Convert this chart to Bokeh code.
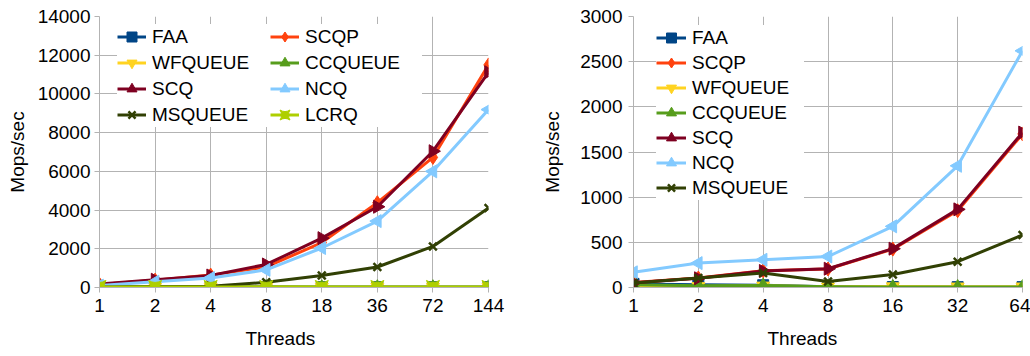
import numpy as np
from bokeh.plotting import figure
from bokeh.models import (Range1d, FixedTicker, Legend, LegendItem, Title,
                          LinearAxis, ColumnDataSource)
from bokeh.layouts import row
from bokeh.embed import file_html
from bokeh.resources import INLINE

# ---------------- data: left chart ----------------
threads_a = ["1", "2", "4", "8", "18", "36", "72", "144"]
faa_a = [40, 30, 25, 20, 20, 20, 20, 20]
scqp_a = [160, 380, 640, 1060, 2320, 4380, 6720, 11500]
wfqueue_a = [30, 25, 20, 20, 15, 15, 15, 15]
ccqueue_a = [40, 30, 25, 20, 15, 15, 15, 15]
scq_a = [180, 400, 620, 1190, 2550, 4170, 7040, 11120]
ncq_a = [100, 300, 490, 910, 2040, 3430, 6000, 9190]
msqueue_a = [30, 40, 60, 270, 620, 1060, 2120, 4110]
lcrq_a = [30, 30, 30, 30, 30, 30, 30, 30]

# ---------------- data: right chart ----------------
threads_b = ["1", "2", "4", "8", "16", "32", "64"]
faa_b = [40, 30, 25, 8, 5, 4, 4]
scqp_b = [55, 105, 185, 205, 425, 850, 1700]
wfqueue_b = [15, 12, 18, 8, 10, 8, 8]
ccqueue_b = [30, 20, 22, 8, 6, 5, 5]
scq_b = [52, 102, 183, 208, 430, 865, 1715]
ncq_b = [168, 270, 307, 343, 677, 1347, 2620]
msqueue_b = [50, 105, 160, 66, 144, 286, 582]

series_a = [("FAA", faa_a), ("SCQP", scqp_a), ("WFQUEUE", wfqueue_a),
            ("CCQUEUE", ccqueue_a), ("SCQ", scq_a), ("NCQ", ncq_a),
            ("MSQUEUE", msqueue_a), ("LCRQ", lcrq_a)]
series_b = [("FAA", faa_b), ("SCQP", scqp_b), ("WFQUEUE", wfqueue_b),
            ("CCQUEUE", ccqueue_b), ("SCQ", scq_b), ("NCQ", ncq_b),
            ("MSQUEUE", msqueue_b)]

FONT = "Liberation Sans"
FS = "19px"
GRID = "#b3b3b3"
TXT = "#000000"

STYLE = {
    "FAA": dict(color="#004586", marker="square", size=11, angle=0.0),
    "SCQP": dict(color="#ff420e", marker="diamond", size=14, angle=0.0),
    "WFQUEUE": dict(color="#ffd320", marker="inverted_triangle", size=13, angle=0.0),
    "CCQUEUE": dict(color="#579d1c", marker="triangle", size=13, angle=0.0),
    "SCQ": dict(color="#7e0021", marker="triangle", size=13, angle=-90.0),
    "NCQ": dict(color="#83caff", marker="triangle", size=13, angle=90.0),
    "MSQUEUE": dict(color="#314004", marker="x", size=11, angle=0.0),
    "LCRQ": dict(color="#aecf00", marker="square_pin", size=13, angle=0.0),
}


def build(labels, series, ymax, ystep, bl, br, ylab_standoff, ytick_standoff,
          title_offset, leg_loc, leg_ncols, leg_spacing, leg_glyph_w, leg_label_w):
    n = len(labels)
    x = np.arange(n)
    p = figure(width=515, height=356, x_range=Range1d(0, n - 1),
               y_range=Range1d(0, ymax), output_backend="svg",
               toolbar_location=None, min_border_left=bl, min_border_right=br,
               min_border_top=16, min_border_bottom=69)
    p.outline_line_color = None
    p.background_fill_color = "white"

    p.xaxis.ticker = FixedTicker(ticks=list(range(n)))
    p.xaxis.major_label_overrides = {i: lab for i, lab in enumerate(labels)}
    p.yaxis.ticker = FixedTicker(ticks=list(range(0, ymax + 1, ystep)))
    p.xgrid.ticker = FixedTicker(ticks=list(range(n)))
    p.ygrid.ticker = FixedTicker(ticks=list(range(0, ymax + 1, ystep)))
    for g in (p.xgrid, p.ygrid):
        g.grid_line_color = GRID
        g.grid_line_width = 1

    for ax in (p.xaxis, p.yaxis):
        ax.axis_line_color = GRID
        ax.major_tick_line_color = GRID
        ax.major_tick_out = 5
        ax.major_tick_in = 0
        ax.minor_tick_line_color = None
        ax.major_label_text_font = FONT
        ax.major_label_text_font_size = FS
        ax.major_label_text_color = TXT
        ax.axis_label_text_font = FONT
        ax.axis_label_text_font_size = FS
        ax.axis_label_text_font_style = "normal"
        ax.axis_label_text_color = TXT
    p.xaxis.major_label_standoff = 6
    p.yaxis.major_label_standoff = ytick_standoff
    p.yaxis.axis_label = "Mops/sec"
    p.yaxis.axis_label_standoff = ylab_standoff

    # invisible spacer axis (hidden tick, empty label) pushing the title down
    spacer = LinearAxis(ticker=FixedTicker(ticks=[0]), axis_line_color=None,
                        major_tick_out=10, major_tick_in=0, minor_tick_out=0,
                        minor_tick_in=0, major_tick_line_color=None,
                        minor_tick_line_color=None, major_label_standoff=0,
                        major_label_text_font_size="1px",
                        major_label_overrides={0: ""})
    p.add_layout(spacer, "below")

    # x-axis title, placed like the original (not centred on the frame)
    p.add_layout(Title(text="Threads", align="left", offset=title_offset,
                       standoff=2, vertical_align="bottom", text_font=FONT,
                       text_font_size=FS, text_font_style="normal",
                       text_color=TXT), "below")

    items = []
    for name, vals in series:
        st = STYLE[name]
        src = ColumnDataSource(dict(x=x, y=vals, ang=[st["angle"]] * n))
        r1 = p.line("x", "y", source=src, line_color=st["color"], line_width=3,
                    line_join="round")
        r2 = p.scatter("x", "y", source=src, marker=st["marker"],
                       size=st["size"], angle="ang", angle_units="deg",
                       fill_color=st["color"], line_color=st["color"],
                       line_width=2.5 if st["marker"] == "x" else 1)
        items.append(LegendItem(label=name, renderers=[r1, r2]))

    nrows = int(np.ceil(len(items) / leg_ncols))
    leg = Legend(items=items, location=leg_loc, orientation="horizontal",
                 ncols=leg_ncols, nrows=nrows, padding=3, margin=0,
                 spacing=leg_spacing, glyph_width=leg_glyph_w, glyph_height=25,
                 label_height=20, label_width=leg_label_w, label_standoff=6,
                 label_text_font=FONT, label_text_font_size=FS,
                 label_text_color=TXT, border_line_color=None,
                 background_fill_color="white", background_fill_alpha=1.0)
    p.add_layout(leg)
    return p


p1 = build(threads_a, series_a, 14000, 2000, bl=99, br=27, ylab_standoff=7,
           ytick_standoff=4, title_offset=146, leg_loc=(18, 160), leg_ncols=2,
           leg_spacing=1, leg_glyph_w=29, leg_label_w=117)
p2 = build(threads_b, series_b, 3000, 500, bl=118, br=8, ylab_standoff=14,
           ytick_standoff=6, title_offset=134, leg_loc=(23, 87), leg_ncols=1,
           leg_spacing=0, leg_glyph_w=30, leg_label_w=112)

layout = row(p1, p2)
open("out.html", "w").write(file_html(layout, INLINE))
